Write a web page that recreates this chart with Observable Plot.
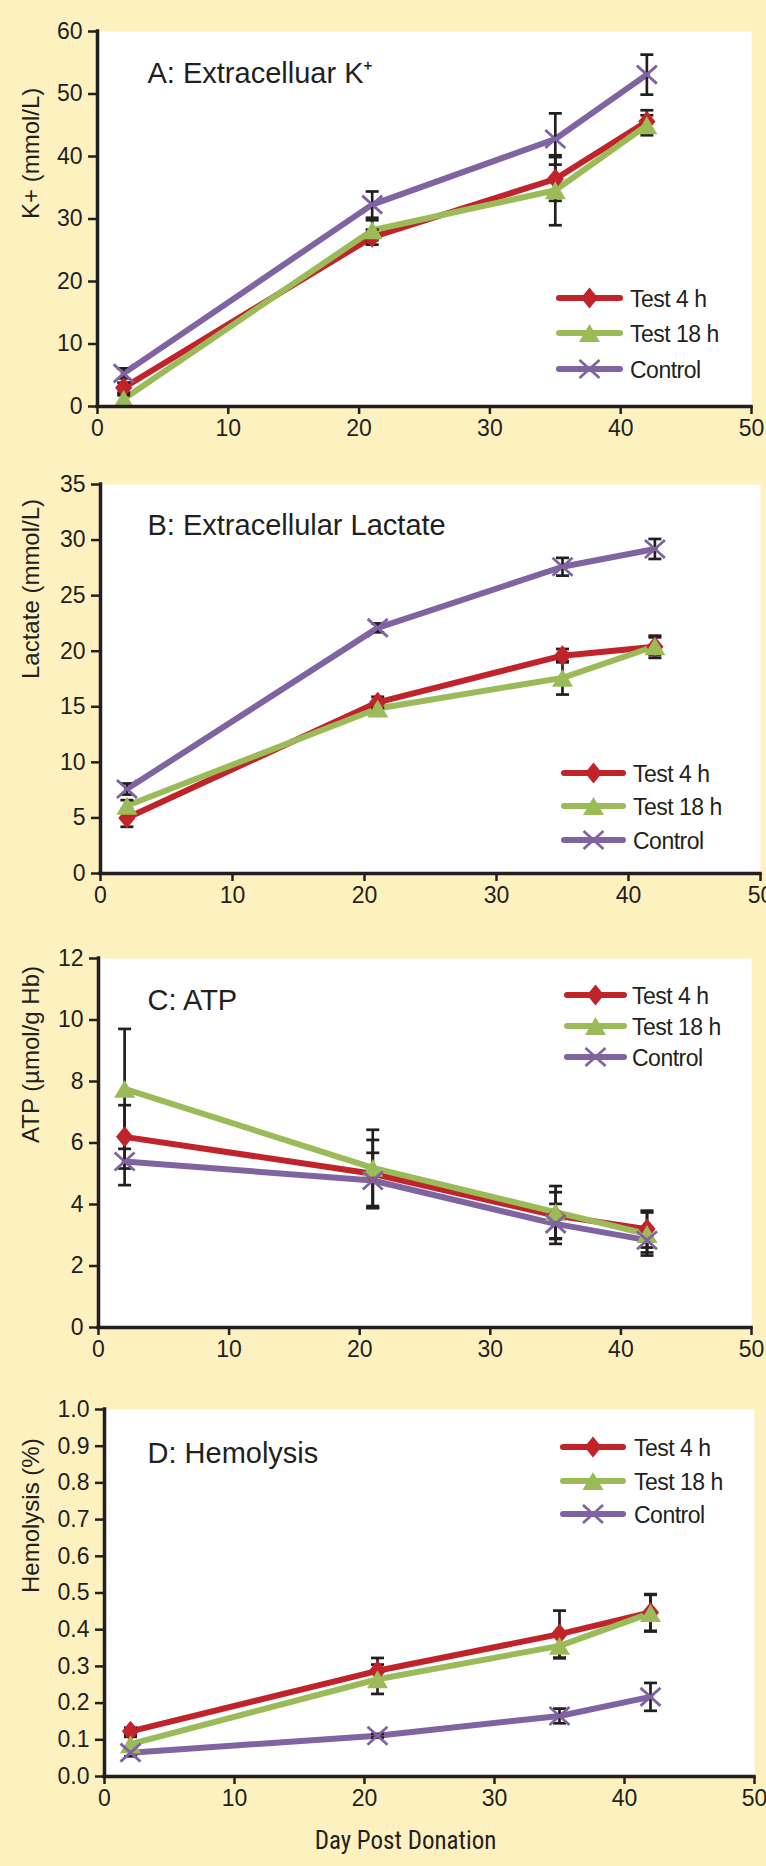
<!DOCTYPE html>
<html><head><meta charset="utf-8">
<script src="https://cdn.jsdelivr.net/npm/d3@7"></script>
<script src="https://cdn.jsdelivr.net/npm/@observablehq/plot@0.6"></script>
<style>
html,body{margin:0;padding:0;background:#FEF1C0;}
#chart{position:relative;width:766px;height:1866px;background:#FEF1C0;overflow:hidden;}
#chart svg{position:absolute;left:0;}
.legend text{letter-spacing:-0.5px;}
</style></head><body><div id="chart"></div>
<script>
// ---------- data ----------
const days = [2, 21, 35, 42];
const seriesNames = ["Test 4 h", "Test 18 h", "Control"];
const xTicks = [0, 10, 20, 30, 40, 50];

// A: Extracellular K+
const kTest4 = [3.0, 27.1, 36.4, 45.6];
const kTest4Err = [0.8, 1.2, 3.5, 1.8];
const kTest18 = [1.2, 28.2, 34.6, 45.0];
const kTest18Err = [0.6, 1.6, 5.6, 1.6];
const kControl = [5.3, 32.3, 42.8, 53.1];
const kControlErr = [0.8, 2.1, 4.1, 3.2];
const kTicks = [0, 10, 20, 30, 40, 50, 60];

// B: Extracellular Lactate
const lTest4 = [5.0, 15.4, 19.6, 20.4];
const lTest4Err = [0.8, 0.5, 0.6, 1.0];
const lTest18 = [6.1, 14.85, 17.6, 20.45];
const lTest18Err = [0.5, 0.5, 1.5, 0.8];
const lControl = [7.6, 22.1, 27.6, 29.2];
const lControlErr = [0.5, 0.4, 0.8, 0.9];
const lTicks = [0, 5, 10, 15, 20, 25, 30, 35];

// C: ATP
const aTest4 = [6.2, 5.0, 3.64, 3.2];
const aTest4Err = [1.03, 1.1, 0.76, 0.6];
const aTest18 = [7.76, 5.19, 3.75, 3.04];
const aTest18Err = [1.95, 1.24, 0.85, 0.7];
const aControl = [5.4, 4.78, 3.37, 2.84];
const aControlErr = [0.77, 0.9, 0.65, 0.4];
const aTicks = [0, 2, 4, 6, 8, 10, 12];

// D: Hemolysis
const hTest4 = [0.123, 0.288, 0.388, 0.447];
const hTest4Err = [0.01, 0.035, 0.064, 0.05];
const hTest18 = [0.088, 0.265, 0.356, 0.445];
const hTest18Err = [0.02, 0.04, 0.034, 0.05];
const hControl = [0.065, 0.111, 0.165, 0.217];
const hControlErr = [0.01, 0.005, 0.02, 0.038];
const hTicks = [0, 0.1, 0.2, 0.3, 0.4, 0.5, 0.6, 0.7, 0.8, 0.9, 1.0];

// ---------- styles ----------
const ink = "#231F20";
const colors = ["#C1232B", "#9BBB59", "#8064A2"];
const FONT = "'Liberation Sans', Arial, Helvetica, sans-serif";

const diamondSym = {draw(ctx, size) {const r = Math.sqrt(size / Math.PI); ctx.moveTo(0, -r); ctx.lineTo(r * 0.82, 0); ctx.lineTo(0, r); ctx.lineTo(-r * 0.82, 0); ctx.closePath();}};
const triSym = {draw(ctx, size) {const r = Math.sqrt(size / Math.PI); ctx.moveTo(0, -r * 0.85); ctx.lineTo(r, r * 0.85); ctx.lineTo(-r, r * 0.85); ctx.closePath();}};
const xSym = {draw(ctx, size) {const r = Math.sqrt(size / Math.PI); ctx.moveTo(-r, -r * 0.9); ctx.lineTo(r, r * 0.9); ctx.moveTo(-r, r * 0.9); ctx.lineTo(r, -r * 0.9);}};
const capSym = {draw(ctx, size) {const r = Math.sqrt(size / Math.PI); ctx.moveTo(-r, 0); ctx.lineTo(r, 0);}};
const symbols = [diamondSym, triSym, xSym];
const symR = [10.5, 10.5, 10];

const panels = [
  {title: "A: Extracelluar K\u207A", ylabel: "K+ (mmol/L)", series: [[kTest4, kTest4Err], [kTest18, kTest18Err], [kControl, kControlErr]],
   domain: [0, 60], ticks: kTicks, fmt: d3.format("d"),
   top: 0, height: 446, mt: 31, mb: 40, ml: 97, mr: 15, titleDx: 50, titleDy: 51,
   legend: {x1: 559, x2: 620, tx: 630, rows: [298, 333, 369]}},
  {title: "B: Extracellular Lactate", ylabel: "Lactate (mmol/L)", series: [[lTest4, lTest4Err], [lTest18, lTest18Err], [lControl, lControlErr]],
   domain: [0, 35], ticks: lTicks, fmt: d3.format("d"),
   top: 446, height: 467, mt: 38, mb: 40, ml: 100, mr: 6, titleDx: 47, titleDy: 50,
   legend: {x1: 564, x2: 623, tx: 633, rows: [327, 360, 394]}},
  {title: "C: ATP", ylabel: "ATP (\u00B5mol/g Hb)", series: [[aTest4, aTest4Err], [aTest18, aTest18Err], [aControl, aControlErr]],
   domain: [0, 12], ticks: aTicks, fmt: d3.format("d"),
   top: 913, height: 454, mt: 45, mb: 40, ml: 98, mr: 15, titleDx: 49, titleDy: 51,
   legend: {x1: 567, x2: 624, tx: 632, rows: [82, 113, 144]}},
  {title: "D: Hemolysis", ylabel: "Hemolysis (%)", series: [[hTest4, hTest4Err], [hTest18, hTest18Err], [hControl, hControlErr]],
   domain: [0, 1], ticks: hTicks, fmt: d3.format(".1f"), xlabel: "Day Post Donation",
   top: 1367, height: 499, mt: 42, mb: 90, ml: 104, mr: 12, titleDx: 43, titleDy: 53,
   legend: {x1: 563, x2: 623, tx: 634, rows: [80, 114, 147]}}
];

const chart = document.getElementById("chart");

for (const p of panels) {
  const bySeries = p.series.map(([vals, errs], i) => vals.map((v, j) => ({series: seriesNames[i], day: days[j], value: v, err: errs[j]})));
  const all = bySeries.flat();
  const marks = [Plot.frame({fill: "white", stroke: "none"})];
  bySeries.forEach((rows, i) => marks.push(Plot.line(rows, {x: "day", y: "value", stroke: colors[i], strokeWidth: 6, strokeLinejoin: "round", strokeLinecap: "round"})));
  marks.push(
    Plot.ruleX(all, {x: "day", y1: d => d.value - d.err, y2: d => d.value + d.err, stroke: ink, strokeWidth: 2.7}),
    Plot.dot(all, {x: "day", y: d => d.value + d.err, symbol: capSym, r: 6.5, stroke: ink, strokeWidth: 2.7, fill: "none"}),
    Plot.dot(all, {x: "day", y: d => d.value - d.err, symbol: capSym, r: 6.5, stroke: ink, strokeWidth: 2.7, fill: "none"})
  );
  bySeries.forEach((rows, i) => {
    if (i === 2) marks.push(Plot.dot(rows, {x: "day", y: "value", symbol: symbols[i], r: symR[i], stroke: colors[i], strokeWidth: 2.8, fill: "none", clip: true}));
    else marks.push(Plot.dot(rows, {x: "day", y: "value", symbol: symbols[i], r: symR[i], fill: colors[i], stroke: "none", clip: true}));
  });
  marks.push(
    Plot.axisY({ticks: p.ticks, tickFormat: p.fmt, tickSize: 9, tickPadding: 6, strokeWidth: 2.5, fontSize: 23, label: null, color: ink}),
    Plot.axisX({ticks: xTicks, tickFormat: d3.format("d"), tickSize: 8, tickPadding: 5, strokeWidth: 2.5, fontSize: 23, label: null, color: ink}),
    Plot.ruleX([0], {stroke: ink, strokeWidth: 3.5, strokeLinecap: "square"}),
    Plot.ruleY([0], {stroke: ink, strokeWidth: 3.5, strokeLinecap: "square"}),
    Plot.text([p.title], {frameAnchor: "top-left", dx: p.titleDx, dy: p.titleDy, lineAnchor: "bottom", textAnchor: "start", fontSize: 29, fill: ink}),
    Plot.text([p.ylabel], {frameAnchor: "left", dx: 31 - p.ml, rotate: -90, fontSize: 24, fill: ink})
  );
  if (p.xlabel) marks.push(Plot.text([p.xlabel], {frameAnchor: "bottom", dx: -24, dy: 72, lineAnchor: "bottom", fontSize: 25, fill: ink, fontFamily: "'Liberation Sans Narrow', 'Arial Narrow', 'Roboto Condensed', sans-serif"}));

  const svg = Plot.plot({
    width: 766, height: p.height,
    marginTop: p.mt, marginBottom: p.mb, marginLeft: p.ml, marginRight: p.mr,
    x: {domain: [0, 50]},
    y: {domain: p.domain},
    style: {fontFamily: FONT, fontSize: "22px", color: ink, background: "transparent", overflow: "visible"},
    marks
  });
  svg.style.top = p.top + "px";
  chart.appendChild(svg);

  // legend (inside plot area, drawn with the same symbols)
  const lg = d3.select(svg).append("g").attr("class", "legend").attr("text-anchor", "start");
  seriesNames.forEach((name, i) => {
    const y = p.legend.rows[i];
    lg.append("line").attr("x1", p.legend.x1).attr("x2", p.legend.x2).attr("y1", y).attr("y2", y)
      .attr("stroke", colors[i]).attr("stroke-width", 6).attr("stroke-linecap", "round");
    const cx = (p.legend.x1 + p.legend.x2) / 2;
    const path = d3.symbol(symbols[i], Math.PI * symR[i] * symR[i])();
    const sp = lg.append("path").attr("d", path).attr("transform", `translate(${cx},${y})`);
    if (i === 2) sp.attr("fill", "none").attr("stroke", colors[i]).attr("stroke-width", 2.8);
    else sp.attr("fill", colors[i]);
    lg.append("text").attr("x", p.legend.tx).attr("y", y + 8.5).attr("fill", ink).attr("font-size", 23).attr("text-anchor", "start").text(name);
  });
}
</script></body></html>
